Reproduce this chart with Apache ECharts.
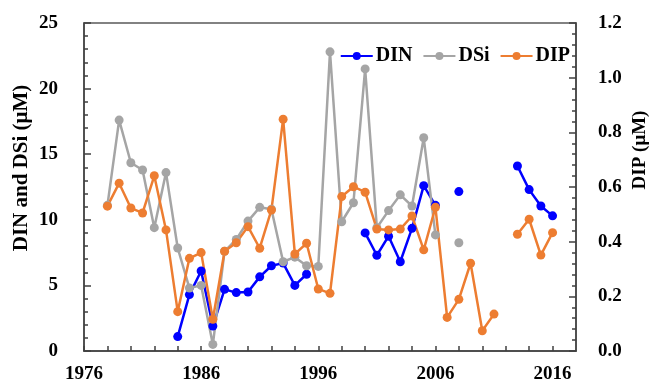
<!DOCTYPE html>
<html>
<head>
<meta charset="utf-8">
<script src="https://cdn.jsdelivr.net/npm/echarts@6/dist/echarts.min.js"></script>
<style>
  html, body { margin: 0; padding: 0; background: #fff; }
  #chart { width: 649px; height: 384px; }
</style>
</head>
<body>
<div id="chart"></div>
<script>
var years = [];
for (var y = 1978; y <= 2016; y++) { years.push(y); }

// 1978 ... 2016
var din = [null, null, null, null, null, null,
    1.1, 4.3, 6.1, 1.9, 4.7, 4.45, 4.5, 5.65, 6.5, 6.7, 5.0, 5.85,
    null, null, null, null,
    9.0, 7.3, 8.75, 6.8, 9.35, 12.6, 11.1, null, 12.15,
    null, null, null, null,
    14.1, 12.3, 11.05, 10.3];

var dsi = [11.1, 17.6, 14.35, 13.8, 9.4, 13.6, 7.85, 4.8, 5.0, 0.5,
    7.6, 8.5, 9.9, 10.95, 10.8, 6.8, 7.15, 6.5, 6.45, 22.8,
    9.85, 11.3, 21.5, 9.4, 10.7, 11.9, 11.05, 16.25, 8.85, null,
    8.25, null, null, null, null, null, null, null, null];

var dip = [0.53, 0.614, 0.523, 0.505, 0.641, 0.443, 0.144, 0.339, 0.36, 0.116,
    0.365, 0.396, 0.455, 0.376, 0.516, 0.848, 0.355, 0.394, 0.227, 0.211,
    0.565, 0.601, 0.581, 0.446, 0.443, 0.446, 0.494, 0.37, 0.526, 0.123,
    0.189, 0.321, 0.074, 0.135, null, 0.427, 0.482, 0.351, 0.433];

function pairs(vals) {
    return years.map(function (yr, i) {
        return [yr, vals[i] === null ? '-' : vals[i]];
    });
}

var font = 'Liberation Serif';
var axisColor = '#404040';

var chart = echarts.init(document.getElementById('chart'));

var option = {
    animation: false,
    textStyle: { fontFamily: font },
    grid: {
        left: 84, right: 73, top: 23, bottom: 33,
        show: true, borderColor: '#595959', borderWidth: 1.5
    },
    legend: {
        right: 74, top: 41,
        itemWidth: 32, itemHeight: 10, itemGap: 10,
        textStyle: { fontFamily: font, fontWeight: 'bold', fontSize: 20, color: '#000', padding: [0, 0, 0, -2] },
        data: ['DIN', 'DSi', 'DIP']
    },
    graphic: [
        {
            type: 'text', x: 22, y: 168, rotation: Math.PI / 2,
            style: { text: 'DIN and DSi (μM)', font: 'bold 21px "Liberation Serif"', fill: '#000', align: 'center', verticalAlign: 'middle' }
        },
        {
            type: 'text', x: 640, y: 150, rotation: Math.PI / 2,
            style: { text: 'DIP (μM)', font: 'bold 19px "Liberation Serif"', fill: '#000', align: 'center', verticalAlign: 'middle' }
        }
    ],
    xAxis: {
        type: 'value',
        min: 1976, max: 2018, interval: 2,
        splitLine: { show: false },
        axisLine: { lineStyle: { color: axisColor, width: 1.5 } },
        axisTick: { inside: true, length: 5, lineStyle: { color: axisColor, width: 1.5 } },
        axisLabel: {
            margin: 14, color: '#000', fontWeight: 'bold', fontSize: 19, fontFamily: font,
            showMaxLabel: false,
            formatter: function (v) { return (v - 1976) % 10 === 0 ? String(v) : ''; }
        }
    },
    yAxis: [
        {
            type: 'value', min: 0, max: 25, interval: 5,
            splitLine: { show: false },
            axisLine: { show: true, lineStyle: { color: axisColor, width: 1.5 } },
            axisTick: { inside: true, length: 7, lineStyle: { color: axisColor, width: 1.5 } },
            minorTick: { show: true, splitNumber: 5, length: 4, lineStyle: { color: axisColor, width: 1.5 } },
            axisLabel: { margin: 26, color: '#000', fontWeight: 'bold', fontSize: 19, fontFamily: font }
        },
        {
            type: 'value', min: 0, max: 1.2, interval: 0.2, position: 'right',
            splitLine: { show: false },
            axisLine: { show: true, lineStyle: { color: axisColor, width: 1.5 } },
            axisTick: { inside: true, length: 7, lineStyle: { color: axisColor, width: 1.5 } },
            minorTick: { show: true, splitNumber: 5, length: 4, lineStyle: { color: axisColor, width: 1.5 } },
            axisLabel: {
                margin: 22, color: '#000', fontWeight: 'bold', fontSize: 19, fontFamily: font,
                formatter: function (v) { return v.toFixed(1); }
            }
        }
    ],
    series: [
        {
            name: 'DIN', type: 'line', yAxisIndex: 0,
            data: pairs(din),
            symbol: 'circle', symbolSize: 9,
            connectNulls: false,
            itemStyle: { color: '#0000FF' },
            lineStyle: { color: '#0000FF', width: 2.5 }
        },
        {
            name: 'DSi', type: 'line', yAxisIndex: 0,
            data: pairs(dsi),
            symbol: 'circle', symbolSize: 9,
            connectNulls: false,
            itemStyle: { color: '#A5A5A5' },
            lineStyle: { color: '#A5A5A5', width: 2.5 }
        },
        {
            name: 'DIP', type: 'line', yAxisIndex: 1,
            data: pairs(dip),
            symbol: 'circle', symbolSize: 9,
            connectNulls: false,
            itemStyle: { color: '#ED7D31' },
            lineStyle: { color: '#ED7D31', width: 2.5 }
        }
    ]
};

chart.setOption(option);
</script>
</body>
</html>
